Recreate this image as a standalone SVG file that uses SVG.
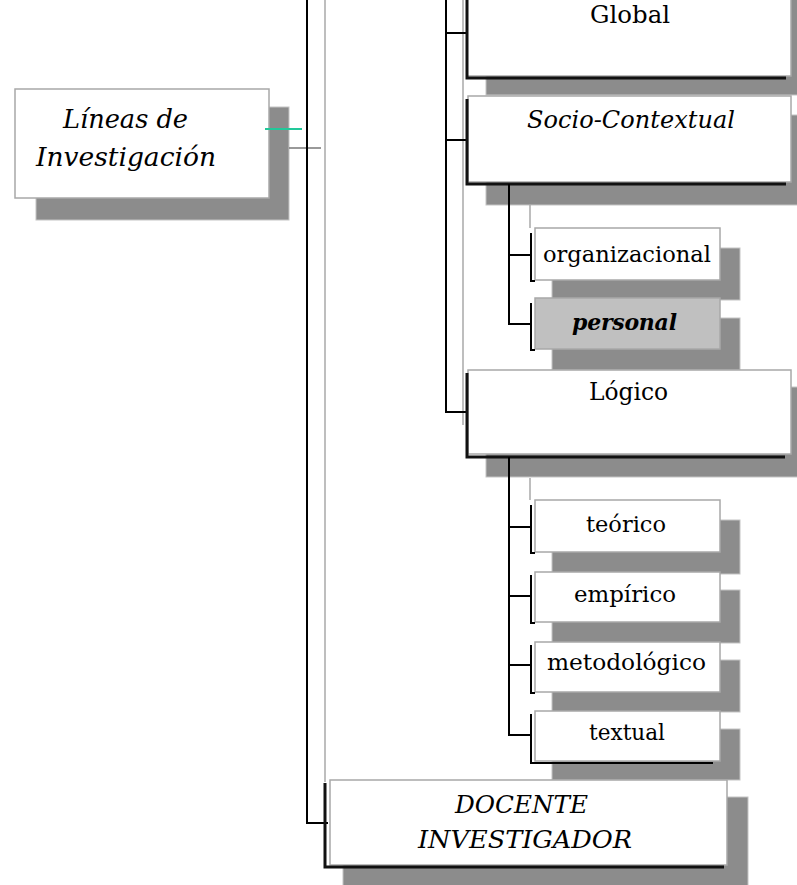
<svg xmlns="http://www.w3.org/2000/svg" width="797" height="885" viewBox="0 0 797 885">
<style>
.bg{fill:#ffffff}
.sh{fill:#8c8c8c;stroke:#c4c4c4;stroke-width:1}
.bx{fill:#ffffff;stroke:#a8a8a8;stroke-width:1.5}
.bxg{fill:#c0c0c0;stroke:#a8a8a8;stroke-width:1.5}
.t{font-family:"DejaVu Serif","Liberation Serif","Times New Roman",serif;fill:#000}
.it{font-style:italic}
.k{stroke:#000;stroke-width:2;fill:none}
.kt{stroke:#111;stroke-width:3;fill:none}
.g{stroke:#a8a8a8;stroke-width:1.5;fill:none}
</style>
<rect class="bg" x="0" y="0" width="797" height="885"/>

<g id="lineas">
<rect class="sh" x="36" y="107" width="253" height="113"/>
<rect class="bx" x="15" y="89" width="254" height="109"/>
<text class="t it" x="63" y="128" font-size="26" textLength="125" lengthAdjust="spacingAndGlyphs">Líneas de</text>
<text class="t it" x="36" y="166" font-size="26" textLength="180" lengthAdjust="spacingAndGlyphs">Investigación</text>
</g>

<g id="global">
<rect class="sh" x="486" y="-20" width="330" height="115"/>
<rect class="bx" x="467" y="-10" width="324" height="86"/>
<text class="t" x="590" y="23" font-size="24" textLength="80" lengthAdjust="spacingAndGlyphs">Global</text>
</g>

<g id="socio">
<rect class="sh" x="486" y="115" width="330" height="90"/>
<rect class="bx" x="468" y="96" width="323" height="86"/>
<text class="t it" x="527" y="128" font-size="24" textLength="208" lengthAdjust="spacing">Socio-Contextual</text>
</g>

<g id="organizacional">
<rect class="sh" x="552" y="248" width="188" height="52"/>
<rect class="bx" x="535" y="228" width="185" height="52"/>
<text class="t" x="543" y="262" font-size="22" textLength="168" lengthAdjust="spacingAndGlyphs">organizacional</text>
</g>

<g id="personal">
<rect class="sh" x="552" y="318" width="188" height="52"/>
<rect class="bxg" x="535" y="298" width="185" height="51"/>
<text class="t it" x="572" y="330" font-size="22" font-weight="bold" textLength="105" lengthAdjust="spacing">personal</text>
</g>

<g id="logico">
<rect class="sh" x="486" y="387" width="330" height="90"/>
<rect class="bx" x="468" y="370" width="323" height="84"/>
<text class="t" x="589" y="400" font-size="24" textLength="79" lengthAdjust="spacingAndGlyphs">Lógico</text>
</g>

<g id="teorico">
<rect class="sh" x="552" y="520" width="188" height="54"/>
<rect class="bx" x="535" y="500" width="185" height="52"/>
<text class="t" x="586" y="532" font-size="22" textLength="80" lengthAdjust="spacingAndGlyphs">teórico</text>
</g>

<g id="empirico">
<rect class="sh" x="552" y="590" width="188" height="53"/>
<rect class="bx" x="535" y="572" width="185" height="50"/>
<text class="t" x="574" y="602" font-size="22" textLength="102" lengthAdjust="spacingAndGlyphs">empírico</text>
</g>

<g id="metodologico">
<rect class="sh" x="552" y="660" width="188" height="52"/>
<rect class="bx" x="535" y="642" width="185" height="50"/>
<text class="t" x="547" y="670" font-size="22" textLength="159" lengthAdjust="spacingAndGlyphs">metodológico</text>
</g>

<g id="textual">
<rect class="sh" x="552" y="729" width="188" height="51"/>
<rect class="bx" x="535" y="711" width="185" height="50"/>
<text class="t" x="589" y="740" font-size="22" textLength="76" lengthAdjust="spacingAndGlyphs">textual</text>
</g>

<g id="docente">
<rect class="sh" x="343" y="797" width="405" height="110"/>
<rect class="bx" x="330" y="780" width="397" height="85"/>
<text class="t it" x="455" y="813" font-size="24" textLength="133" lengthAdjust="spacingAndGlyphs">DOCENTE</text>
<text class="t it" x="418" y="848" font-size="24" textLength="214" lengthAdjust="spacingAndGlyphs">INVESTIGADOR</text>
</g>

<g id="connectors">
<line class="g" x1="325" y1="0" x2="325" y2="782"/>
<line class="g" x1="463" y1="0" x2="463" y2="425"/>
<line class="g" x1="530" y1="205" x2="530" y2="228"/>
<line class="g" x1="530" y1="478" x2="530" y2="500"/>
<line x1="265" y1="129" x2="302" y2="129" stroke="#22c89a" stroke-width="2"/>
<line x1="289" y1="148" x2="321" y2="148" stroke="#777" stroke-width="1.5"/>
<polyline class="k" points="307,0 307,823 328,823"/>
<polyline class="k" points="446,0 446,412 467,412"/>
<line class="k" x1="446" y1="33" x2="467" y2="33"/>
<line class="k" x1="446" y1="140" x2="467" y2="140"/>
<polyline class="kt" points="467,0 467,78 786,78"/>
<polyline class="kt" points="467,99 467,184 786,184"/>
<polyline class="kt" points="467,373 467,457 785,457"/>
<polyline class="kt" points="325,783 325,867 724,867"/>
<polyline class="k" points="509,184 509,324 531,324"/>
<line class="k" x1="509" y1="255" x2="531" y2="255"/>
<polyline class="k" points="509,457 509,735 531,735"/>
<line class="k" x1="509" y1="527" x2="531" y2="527"/>
<line class="k" x1="509" y1="596" x2="531" y2="596"/>
<line class="k" x1="509" y1="665" x2="531" y2="665"/>
<polyline class="k" points="531,233 531,281 535,281"/>
<polyline class="k" points="531,303 531,350 535,350"/>
<polyline class="k" points="531,505 531,553 535,553"/>
<polyline class="k" points="531,575 531,623 535,623"/>
<polyline class="k" points="531,645 531,693 535,693"/>
<polyline class="k" points="531,714 531,763 713,763"/>
</g>
</svg>
